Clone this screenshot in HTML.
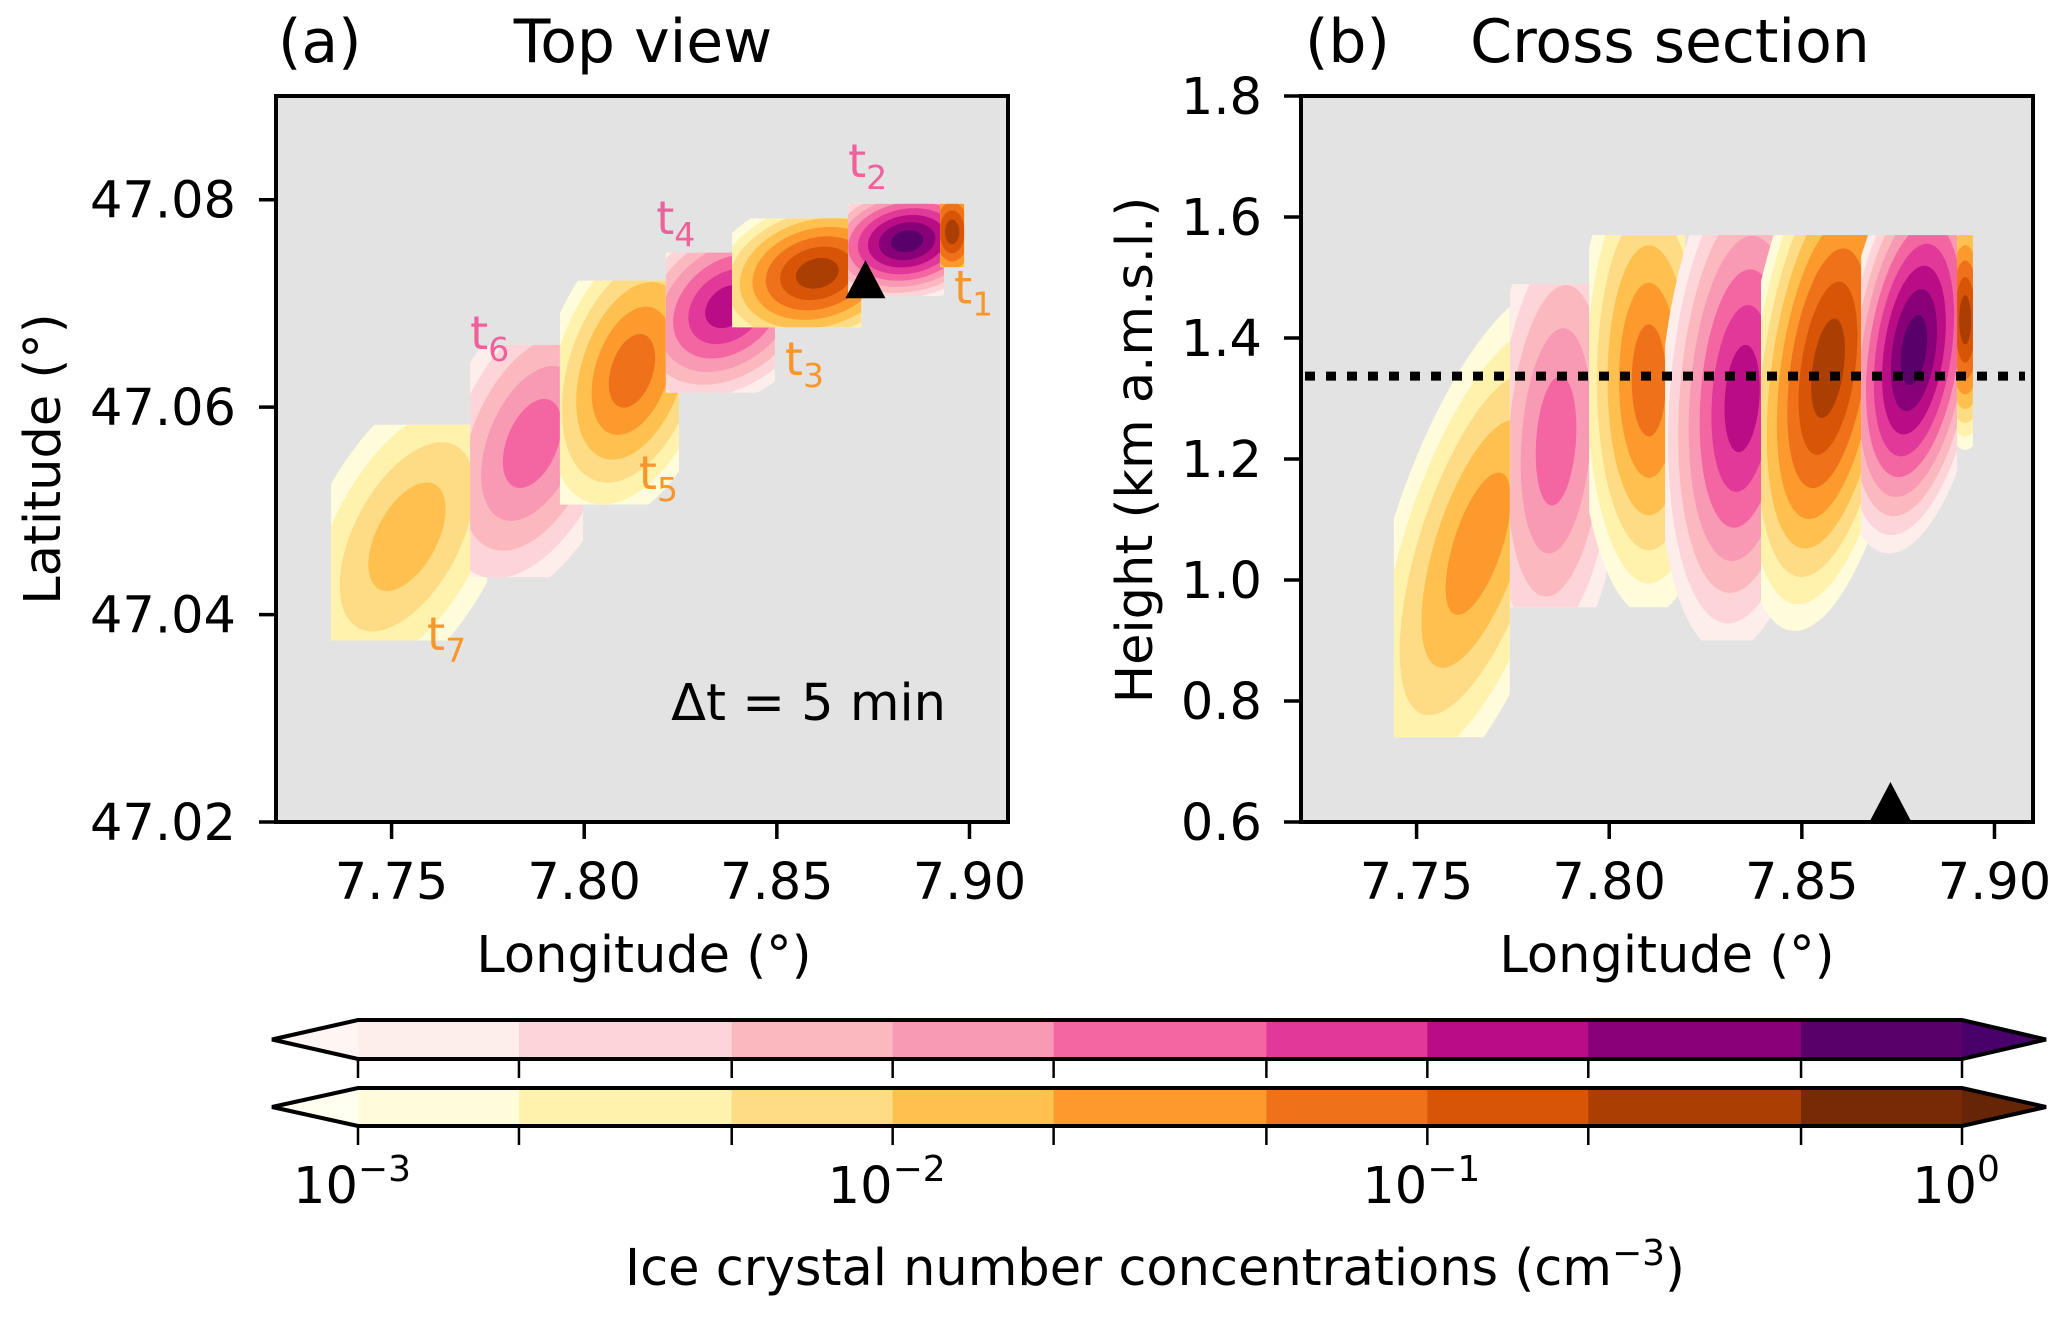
<!DOCTYPE html>
<html><head><meta charset="utf-8"><style>
html,body{margin:0;padding:0;background:#fff}
svg{display:block}
text{font-family:"DejaVu Sans","Liberation Sans",sans-serif}
</style></head><body>
<svg id="fig" width="2067" height="1317" viewBox="0 0 2067 1317" xmlns="http://www.w3.org/2000/svg">
<defs></defs>
<g id="panelA"></g>
<g id="panelB"></g>
<g id="cbar"></g>
</svg>
<script>
// ---- data ----
const levelBounds = [0.001,0.002,0.005,0.01,0.02,0.05,0.1,0.2,0.5,1];
const pinkColors = ["#fff5f3","#fdeeec","#fdd5d8","#fbb9bf","#f99ab5","#f466a1","#e1399a","#b90d85","#880078","#5a006b","#49006a"];
const orangeColors = ["#fffff0","#fffcdb","#fff2ad","#fedb85","#fec04f","#fd9a2d","#ef7119","#d85508","#ab3e03","#782a07","#662506"];
const blobNames = ["t7","t6","t5","t4","t3","t2","t1"];
const blobPalette = ["o","p","o","p","o","p","o"];
// top view: centres, peak level, clip boxes (lon0,lon1,latTop,latBottom)
const topLon = [7.7540,7.7865,7.8124,7.8373,7.8605,7.8838,7.8955];
const topLat = [47.0475,47.0565,47.0635,47.0697,47.0729,47.0760,47.0769];
const topPeak = [4,5,6,7,8,9,8];
const topClipLon0 = [7.7343,7.7704,7.7937,7.8212,7.8384,7.8685,7.8924];
const topClipLon1 = [7.7748,7.7997,7.8246,7.8495,7.8719,7.8934,7.8986];
const topClipLat0 = [47.0583,47.0660,47.0722,47.0749,47.0782,47.0796,47.0796];
const topClipLat1 = [47.0375,47.0436,47.0506,47.0614,47.0677,47.0707,47.0735];
// cross section
const xsLon = [7.7660,7.7862,7.8103,7.8345,7.8568,7.8791,7.8924];
const xsH = [1.06,1.23,1.33,1.30,1.35,1.38,1.43];
const xsPeak = [5,5,6,7,8,9,8];
const xsClipLon0 = [7.7441,7.7743,7.7948,7.8145,7.8394,7.8654,7.8903];
const xsClipLon1 = [7.7742,7.7992,7.8197,7.8446,7.8695,7.8903,7.8944];
const xsClipH0 = [1.50,1.489,1.570,1.570,1.570,1.570,1.570];
const xsClipH1 = [0.74,0.955,0.955,0.900,0.853,1.010,1.20];
const lonTicks = [7.75,7.80,7.85,7.90];
const latTicks = [47.02,47.04,47.06,47.08];
const hTicks = [0.6,0.8,1.0,1.2,1.4,1.6,1.8];
const stationLon = 7.873, stationLat = 47.0705, cloudHeight = 1.337;
const labelText = ["t","t","t","t","t","t","t"];
const labelSub = ["7","6","5","4","3","2","1"];
const labelLon = [7.7592,7.7704,7.8142,7.8187,7.8521,7.8685,7.8960];
const labelLat = [47.0366,47.0656,47.0521,47.0767,47.0631,47.0822,47.0700];
// shapes (pixel semi-axes & angle) - styling only
const topShape = [[180,92,-62],[170,92,-68],[160,88,-72],[120,88,-40],[115,78,-15],[95,62,-10],[65,38,-90]];
const xsShape = [[270,88,-72],[235,72,-86],[235,72,-90],[255,82,-86],[265,82,-82],[205,72,-82],[130,32,-90]];

const NS="http://www.w3.org/2000/svg";
function mk(tag,attrs,parent){const e=document.createElementNS(NS,tag);for(const k in attrs)e.setAttribute(k,attrs[k]);if(parent)parent.appendChild(e);return e;}
const A={l:276,r:1008,t:96,b:822}, B={l:1301,r:2033,t:96,b:822};
const xA=v=>A.l+(v-7.72)/0.19*(A.r-A.l);
const yA=v=>A.b-(v-47.02)/0.07*(A.b-A.t);
const xB=v=>B.l+(v-7.72)/0.19*(B.r-B.l);
const yB=v=>B.b-(v-0.6)/1.2*(B.b-B.t);
const defs=document.querySelector('defs');

function drawPanel(g,P,xf,yf,lon,yv,peak,c0,c1,cy0,cy1,shape,pref){
  const bg=mk('rect',{x:P.l,y:P.t,width:P.r-P.l,height:P.b-P.t,fill:'#e3e3e3'},g);
  
  
  for(let i=0;i<lon.length;i++){
    const cp=mk('clipPath',{id:pref+i},defs);
    const x0=xf(c0[i]),x1=xf(c1[i]),y0=yf(cy0[i]),y1=yf(cy1[i]);
    mk('rect',{x:Math.max(x0,P.l),y:Math.max(y0,P.t),width:x1-x0,height:y1-y0},cp);
    const bg2=mk('g',{'clip-path':'url(#'+pref+i+')'},g);
    
    
    const cols=blobPalette[i]==='p'?pinkColors:orangeColors;
    const cx=xf(lon[i]),cy=yf(yv[i]);const [a,b,ang]=shape[i];const p=peak[i];
    for(let k=1;k<=p;k++){
      const s=Math.pow((p-k+1)/p,0.8);
      const e=mk('ellipse',{cx:cx,cy:cy,rx:a*s,ry:b*s,fill:cols[k],transform:`rotate(${ang} ${cx} ${cy})`},bg2);
      
      
    }
  }
  const fr=mk('rect',{x:P.l,y:P.t,width:P.r-P.l,height:P.b-P.t,fill:'none',stroke:'#000','stroke-width':4},g);
  
  
}
function txt(g,x,y,s,size,anchor,name,extra,color){const t=mk('text',Object.assign({x:x,y:y,'font-size':size,'text-anchor':anchor||'start'},extra||{}),g);t.style.fill=color||'#000';t.textContent=s;return t;}

// Panel A
const gA=document.getElementById('panelA');
drawPanel(gA,A,xA,yA,topLon,topLat,topPeak,topClipLon0,topClipLon1,topClipLat0,topClipLat1,topShape,'ca');
lonTicks.forEach(v=>{const x=xA(v);const l=mk('line',{x1:x,x2:x,y1:A.b,y2:A.b+17,stroke:'#000','stroke-width':3.5},gA);txt(gA,x,899,v.toFixed(2),51,'middle','x-tick-label');});
latTicks.forEach(v=>{const y=yA(v);const l=mk('line',{x1:A.l-17,x2:A.l,y1:y,y2:y,stroke:'#000','stroke-width':3.5},gA);txt(gA,236,y+18,v.toFixed(2),51,'end','y-tick-label');});
txt(gA,644,972,'Longitude (°)',51,'middle','x-axis-title');
txt(gA,0,0,'Latitude (°)',51,'middle','y-axis-title',{transform:'translate(60,459) rotate(-90)'});
txt(gA,278,62,'(a)',60,'start','panel-label-a');
txt(gA,643,62,'Top view',60,'middle','panel-title-a');
txt(gA,946,720,'Δt = 5 min',51,'end','time-step-note');
for(let i=0;i<labelText.length;i++){
  const t=txt(gA,xA(labelLon[i]),yA(labelLat[i]),labelText[i],46,'start','time-label-'+blobNames[i],{},blobPalette[i]==='p'?'#f0609a':'#f7962a');
  const ts=mk('tspan',{dy:12,'font-size':33},t);ts.textContent=labelSub[i];
}
{const x=xA(stationLon),y=yA(stationLat);const tr=mk('polygon',{points:`${x},${y-38} ${x-20},${y} ${x+20},${y}`,fill:'#000'},gA);}

// Panel B
const gB=document.getElementById('panelB');
drawPanel(gB,B,xB,yB,xsLon,xsH,xsPeak,xsClipLon0,xsClipLon1,xsClipH0,xsClipH1,xsShape,'cb');
{const y=yB(cloudHeight);const l=mk('line',{x1:B.l+4,x2:B.r-8,y1:y,y2:y,stroke:'#000','stroke-width':9,'stroke-dasharray':'10 11'},gB);}
{const x=xB(stationLon),y=B.b-2;const tr=mk('polygon',{points:`${x},${y-38} ${x-20},${y} ${x+20},${y}`,fill:'#000'},gB);}
lonTicks.forEach(v=>{const x=xB(v);const l=mk('line',{x1:x,x2:x,y1:B.b,y2:B.b+17,stroke:'#000','stroke-width':3.5},gB);txt(gB,x,899,v.toFixed(2),51,'middle','x-tick-label');});
hTicks.forEach(v=>{const y=yB(v);const l=mk('line',{x1:B.l-17,x2:B.l,y1:y,y2:y,stroke:'#000','stroke-width':3.5},gB);txt(gB,1262,y+18,v.toFixed(1),51,'end','y-tick-label');});
txt(gB,1667,972,'Longitude (°)',51,'middle','x-axis-title');
txt(gB,0,0,'Height (km a.m.s.l.)',51,'middle','y-axis-title',{transform:'translate(1152,450) rotate(-90)'});
txt(gB,1305,62,'(b)',60,'start','panel-label-b');
txt(gB,1670,62,'Cross section',60,'middle','panel-title-b');

// Colorbar
const gC=document.getElementById('cbar');
const CL=358,CR=1962,TL=272,TR=2046;
const cx=v=>CL+(Math.log10(v)+3)/3*(CR-CL);
function bar(y0,y1,cols,nm){
  const ym=(y0+y1)/2;
  const g=mk('g',{},gC);
  mk('polygon',{points:`${TL},${ym} ${CL},${y0} ${CL},${y1}`,fill:cols[0]},g);
  for(let i=0;i<levelBounds.length-1;i++){
    const r=mk('rect',{x:cx(levelBounds[i]),y:y0,width:cx(levelBounds[i+1])-cx(levelBounds[i])+0.5,height:y1-y0,fill:cols[i+1]},g);
    
  }
  mk('polygon',{points:`${CR},${y0} ${TR},${ym} ${CR},${y1}`,fill:cols[10]},g);
  mk('polygon',{points:`${TL},${ym} ${CL},${y0} ${CR},${y0} ${TR},${ym} ${CR},${y1} ${CL},${y1}`,fill:'none',stroke:'#000','stroke-width':4},g);
  levelBounds.forEach(v=>{const x=cx(v);const l=mk('line',{x1:x,x2:x,y1:y1,y2:y1+19,stroke:'#000','stroke-width':2.5},g);});
}
bar(1020,1059,pinkColors,'colorbar-pink');
bar(1088,1126,orangeColors,'colorbar-orange');
[-3,-2,-1,0].forEach(p=>{const x=cx(Math.pow(10,p));const t=txt(gC,x-6,1203,'10',51,'middle','colorbar-tick-label');const s=mk('tspan',{dy:-22,'font-size':36},t);s.textContent=p<0?'−'+(-p):'0';});
{const t=txt(gC,1155,1285,'Ice crystal number concentrations (cm',51,'middle','colorbar-title');const s=mk('tspan',{dy:-20,'font-size':36},t);s.textContent='−3';const s2=mk('tspan',{dy:20},t);s2.textContent=')';}
</script>
</body></html>
